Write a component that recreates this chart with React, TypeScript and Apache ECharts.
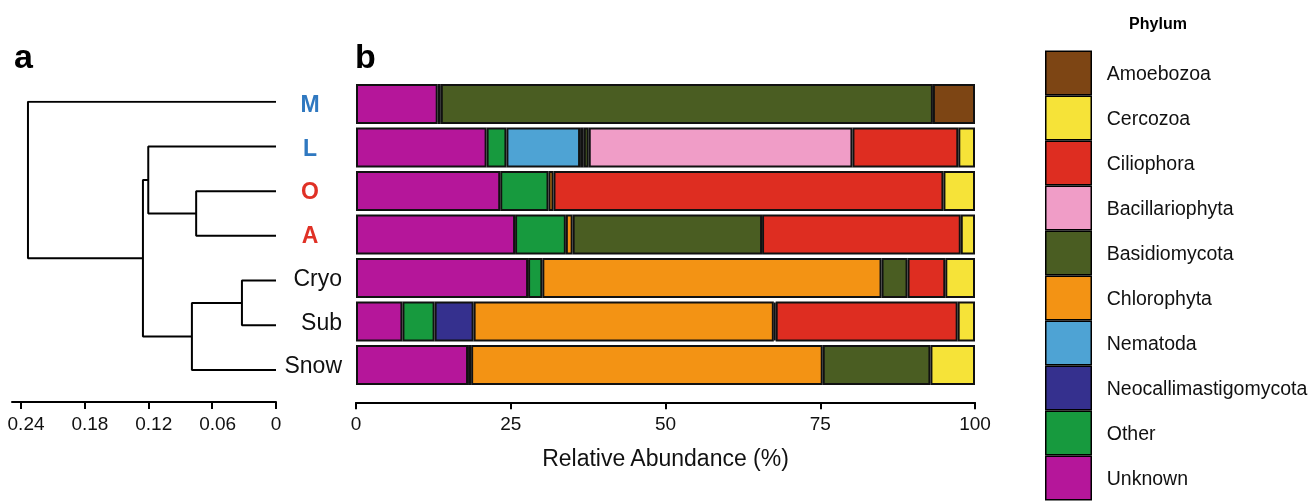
import React, { useEffect, useRef } from "react";
import * as echarts from "echarts";

// Samples, top to bottom
const samples = ["M", "L", "O", "A", "Cryo", "Sub", "Snow"];
const sampleColors: Record<string, string> = { M: "#2F78C0", L: "#2F78C0", O: "#E03126", A: "#E03126" };

// Phyla in legend order (top to bottom)
const phyla = [
  "Amoebozoa",
  "Cercozoa",
  "Ciliophora",
  "Bacillariophyta",
  "Basidiomycota",
  "Chlorophyta",
  "Nematoda",
  "Neocallimastigomycota",
  "Other",
  "Unknown",
];
const phylaColors = [
  "#7D4514",
  "#F6E338",
  "#DE2D21",
  "#F09DC7",
  "#4A5D22",
  "#F39314",
  "#4EA3D4",
  "#35308E",
  "#179A3E",
  "#B5169A",
];

// Relative abundance (%) per sample [M, L, O, A, Cryo, Sub, Snow]
const amoebozoa = [6.8, 0, 0, 0, 0, 0, 0];
const cercozoa = [0, 2.7, 5.1, 2.3, 4.8, 2.8, 7.2];
const ciliophora = [0, 17.1, 63.0, 32.1, 6.1, 29.4, 0];
const bacillariophyta = [0, 42.6, 0, 0, 0, 0, 0];
const basidiomycota = [79.5, 0.8, 0, 30.6, 4.2, 0.3, 17.4];
const chlorophyta = [0, 0.6, 0.8, 1.1, 54.8, 48.5, 56.8];
const nematoda = [0.5, 11.9, 0, 0, 0, 0, 0];
const neocallimastigomycota = [0, 0, 0, 0, 0, 6.3, 0.5];
const other = [0, 3.2, 7.8, 8.2, 2.3, 5.2, 0];
const unknown = [13.2, 21.1, 23.3, 25.7, 27.8, 7.5, 18.1];

const phylaValues = [
  amoebozoa,
  cercozoa,
  ciliophora,
  bacillariophyta,
  basidiomycota,
  chlorophyta,
  nematoda,
  neocallimastigomycota,
  other,
  unknown,
];

// Dendrogram: leaf order = samples; merges [childA, childB, height]
// child refs: "L:<name>" leaf or "N:<index>" earlier merge
const dendroMerges: [string, string, number][] = [
  ["L:O", "L:A", 0.075],
  ["L:Cryo", "L:Sub", 0.032],
  ["L:L", "N:0", 0.12],
  ["N:1", "L:Snow", 0.079],
  ["N:2", "N:3", 0.125],
  ["L:M", "N:4", 0.233],
];
const dendroTicks = [0, 0.06, 0.12, 0.18, 0.24];
const barTicks = [0, 25, 50, 75, 100];

const FONT = "Liberation Sans, Arial, Helvetica, sans-serif";

function buildDendroSeries() {
  const nodes: { y: number; h: number }[] = [];
  const get = (ref: string) => {
    if (ref.startsWith("L:")) return { y: samples.indexOf(ref.slice(2)), h: 0 };
    return nodes[Number(ref.slice(2))];
  };
  const series: any[] = [];
  dendroMerges.forEach(([a, b, h]) => {
    const ca = get(a);
    const cb = get(b);
    series.push({
      type: "line",
      xAxisIndex: 0,
      yAxisIndex: 0,
      symbol: "none",
      silent: true,
      lineStyle: { color: "#000", width: 2 },
      data: [
        [ca.h, ca.y],
        [h, ca.y],
        [h, cb.y],
        [cb.h, cb.y],
      ],
    });
    nodes.push({ y: (ca.y + cb.y) / 2, h });
  });
  return series;
}

export default function App() {
  const ref = useRef<HTMLDivElement>(null);
  useEffect(() => {
    if (!ref.current) return;
    const chart = echarts.init(ref.current, null, { renderer: "svg" });

    const barSeries = phyla
      .map((name, i) => ({
        type: "bar",
        name,
        stack: "total",
        xAxisIndex: 1,
        yAxisIndex: 1,
        barCategoryGap: "8%",
        itemStyle: { color: phylaColors[i], borderColor: "#111", borderWidth: 2 },
        emphasis: { disabled: true },
        data: phylaValues[i].map((v) => (v === 0 ? null : v)),
      }))
      .reverse();

    const rich: any = {
      plain: { fontSize: 23, color: "#111", fontFamily: FONT },
    };
    Object.keys(sampleColors).forEach((k) => {
      rich["c" + k] = {
        fontSize: 23,
        fontWeight: "bold",
        color: sampleColors[k],
        fontFamily: FONT,
        width: 24,
        align: "center",
        padding: [0, 20, 0, 0],
      };
    });

    chart.setOption({
      animation: false,
      textStyle: { fontFamily: FONT },
      graphic: [
        {
          type: "text",
          x: 14,
          y: 56,
          style: { text: "a", fontSize: 34, fontWeight: "bold", fontFamily: FONT, fill: "#000", verticalAlign: "middle" },
        },
        {
          type: "text",
          x: 355,
          y: 56,
          style: { text: "b", fontSize: 34, fontWeight: "bold", fontFamily: FONT, fill: "#000", verticalAlign: "middle" },
        },
        {
          type: "text",
          x: 1158,
          y: 23,
          style: { text: "Phylum", fontSize: 16, fontWeight: "bold", fontFamily: FONT, fill: "#000", align: "center", verticalAlign: "middle" },
        },
      ],
      legend: {
        orient: "vertical",
        left: 1045,
        top: 50.5,
        height: 480,
        padding: 0,
        itemWidth: 45.5,
        itemHeight: 43.5,
        itemGap: 0,
        icon: "rect",
        selectedMode: false,
        data: phyla,
        itemStyle: { borderColor: "#000", borderWidth: 1.5 },
        textStyle: { fontSize: 19.5, color: "#111", fontFamily: FONT, padding: [0, 0, 0, 10.5] },
      },
      grid: [
        { left: 12, width: 264, top: 101.7, height: 268.3, outerBoundsMode: "none", containLabel: false },
        { left: 356, width: 619, top: 82.25, height: 304.5, outerBoundsMode: "none", containLabel: false },
      ],
      xAxis: [
        {
          gridIndex: 0,
          type: "value",
          min: 0,
          max: 0.248,
          inverse: true,
          position: "bottom",
          offset: 32,
          splitLine: { show: false },
          axisLine: { show: true, onZero: false, lineStyle: { color: "#000", width: 2 } },
          axisTick: { show: true, customValues: dendroTicks, length: 7, lineStyle: { color: "#000", width: 2 } },
          axisLabel: {
            customValues: dendroTicks,
            fontSize: 19,
            color: "#111",
            margin: 12,
            formatter: (v: number) => (v === 0 ? "0" : `{s|${v.toFixed(2)}}`),
            rich: { s: { fontSize: 19, color: "#111", fontFamily: FONT, padding: [0, 0, 0, 11] } },
          },
        },
        {
          gridIndex: 1,
          type: "value",
          min: 0,
          max: 100,
          interval: 25,
          offset: 15.5,
          splitLine: { show: false },
          axisLine: { show: true, onZero: false, lineStyle: { color: "#000", width: 2 } },
          axisTick: { show: true, customValues: barTicks, length: 7, lineStyle: { color: "#000", width: 2 } },
          axisLabel: { customValues: barTicks, fontSize: 19, color: "#111", margin: 12 },
          name: "Relative Abundance (%)",
          nameLocation: "middle",
          nameGap: 44,
          nameTextStyle: { fontSize: 23, color: "#111" },
        },
      ],
      yAxis: [
        { gridIndex: 0, type: "value", min: 0, max: 6, inverse: true, show: false },
        {
          gridIndex: 1,
          type: "category",
          data: samples,
          inverse: true,
          axisLine: { show: false },
          axisTick: { show: false },
          axisLabel: {
            margin: 14,
            formatter: (v: string) => (sampleColors[v] ? `{c${v}|${v}}` : `{plain|${v}}`),
            rich,
          },
        },
      ],
      series: [...buildDendroSeries(), ...barSeries],
    });
    return () => chart.dispose();
  }, []);
  return <div ref={ref} style={{ position: "fixed", left: 0, top: 0, width: 1311, height: 504 }} />;
}
